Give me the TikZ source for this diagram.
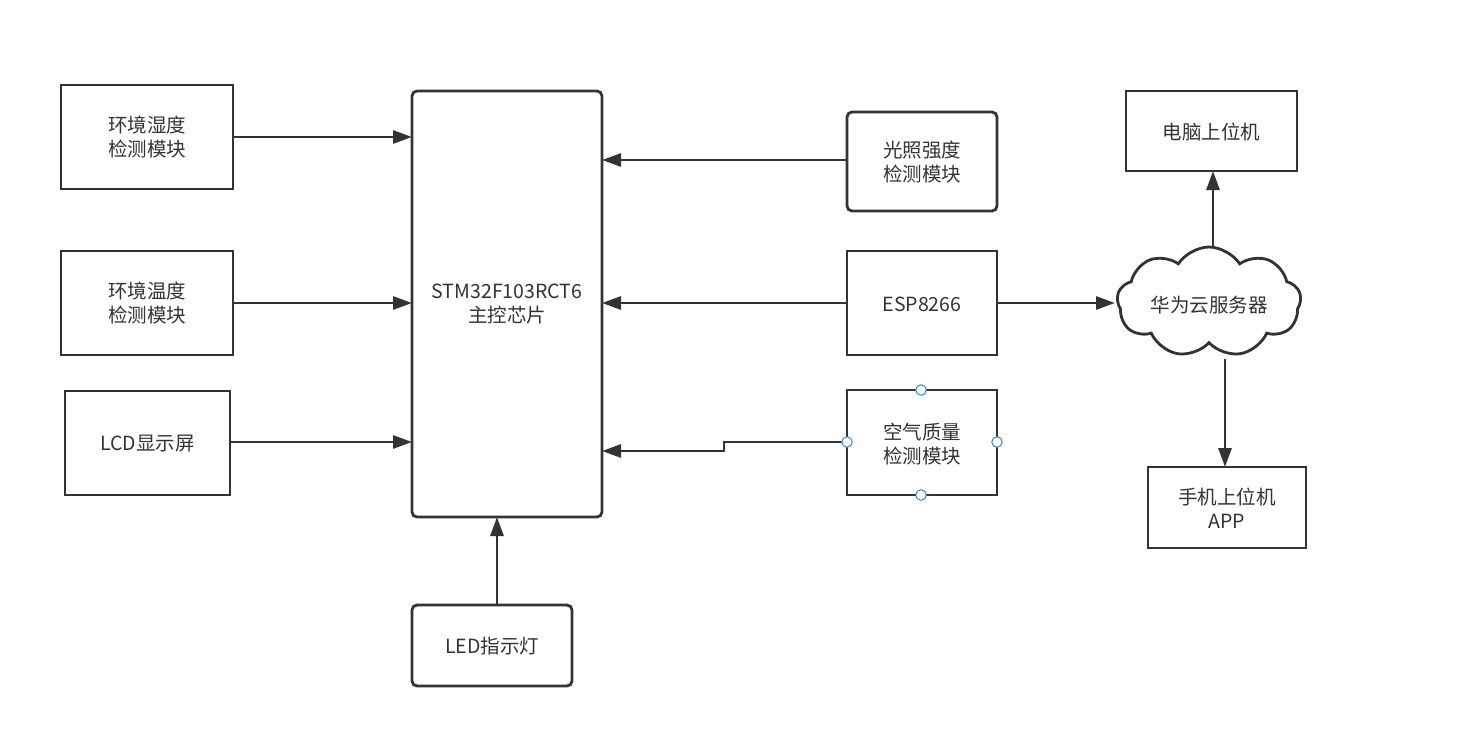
\documentclass[tikz,border=0pt]{standalone}
\usepackage{fontspec}
\setmainfont{Noto Sans CJK SC}
\usetikzlibrary{arrows.meta,shapes.symbols}
\definecolor{ln}{HTML}{333333}
\definecolor{hd}{HTML}{1A7FE8}
\begin{document}
\begin{tikzpicture}[x=1pt,y=-1pt,
  every node/.style={font=\fontsize{19.5}{24}\selectfont, text=ln, align=center, inner sep=0},
  sq/.style={draw=ln, line width=2.8pt, fill=white},
  rd/.style={draw=ln, line width=2.8pt, fill=white, rounded corners=5pt},
  arr/.style={draw=ln, line width=2.8pt, -{Triangle[length=19pt,width=13pt]}},
  hdl/.style={circle, draw=hd, fill=white, line width=0.9pt, minimum size=10.5pt, inner sep=0}]
\useasboundingbox (0,0) rectangle (1479,731);
% boxes
\draw[sq] (61,85) rectangle (233,189);
\node (hum) at (147,137) {环境湿度\\检测模块};
\coordinate (humE) at (233,137);
\draw[sq] (61,251) rectangle (233,355);
\node (tmp) at (147,303) {环境温度\\检测模块};
\coordinate (tmpE) at (233,303);
\draw[sq] (65,391) rectangle (230,495);
\node (lcd) at (147.5,444) {LCD显示屏};
\coordinate (lcdE) at (230,442);
\draw[rd] (412,91) rectangle (602,517);
\node (stm) at (507,304) {STM32F103RCT6\\主控芯片};
\draw[rd] (412,605) rectangle (572,686);
\node (led) at (492,646) {LED指示灯};
\coordinate (ledN) at (497,605);
\draw[rd] (847,112) rectangle (997,211);
\node (lig) at (922,162) {光照强度\\检测模块};
\coordinate (ligW) at (847,160);
\draw[sq] (847,251) rectangle (997,355);
\node (esp) at (922,304) {ESP8266};
\coordinate (espW) at (847,303);
\coordinate (espE) at (997,303);
\draw[sq] (847,390) rectangle (997,495);
\node (air) at (922,444) {空气质量\\检测模块};
\coordinate (airW) at (847,442);
\draw[sq] (1126,91) rectangle (1297,171);
\node (pc) at (1211.5,132) {电脑上位机};
\coordinate (pcS) at (1213,171);
\draw[sq] (1148,467) rectangle (1306,548);
\node (app) at (1227,508) {手机上位机\\APP};
\coordinate (appN) at (1225,467);
\node[cloud, cloud puffs=9, cloud puff arc=115, cloud ignores aspect, draw=ln, line width=2.8pt, fill=white, minimum width=184pt, minimum height=110pt] (cloud) at (1209,302) {};
\node at (1209,305) {华为云服务器};
\coordinate (cloudW) at (1115,303);
\coordinate (cloudN) at (1213,247);
\coordinate (cloudS) at (1225,359);
% connectors
\draw[arr] (humE) -- (412,137);
\draw[arr] (tmpE) -- (412,303);
\draw[arr] (lcdE) -- (412,442);
\draw[arr] (ligW) -- (602,160);
\draw[arr] (espW) -- (602,303);
\draw[arr] (airW) -- (724,442) -- (724,451) -- (602,451);
\draw[arr] (ledN) -- (497,517);
\draw[arr] (espE) -- (cloudW);
\draw[arr] (cloudN) -- (pcS);
\draw[arr] (cloudS) -- (appN);
% selection handles
\node[hdl] (h1) at (921,390) {};
\node[hdl] (h2) at (921,495) {};
\node[hdl] (h3) at (847,442) {};
\node[hdl] (h4) at (997,442) {};
\end{tikzpicture}
\end{document}
